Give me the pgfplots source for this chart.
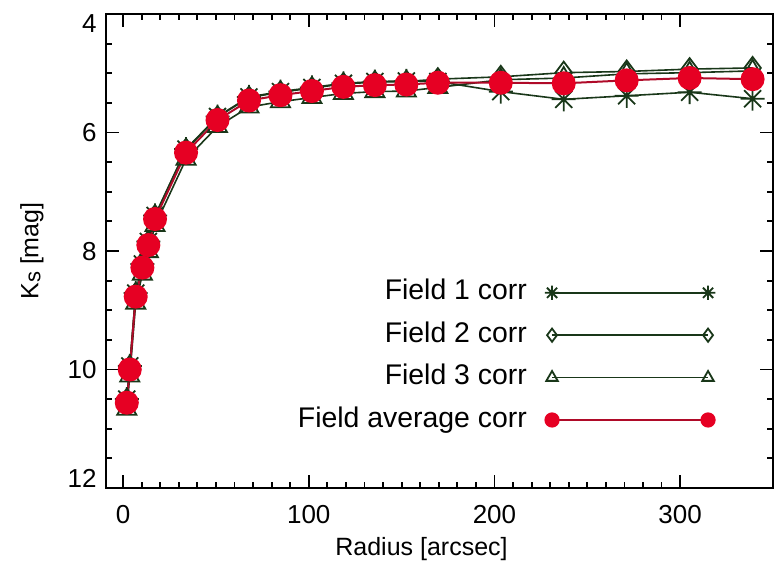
\documentclass[border=0pt]{standalone}
\usepackage{fontspec}
\setmainfont{Liberation Sans}
\usepackage{pgfplots}
\usepackage{pgfplotstable}
\pgfplotsset{compat=1.18}
\usetikzlibrary{plotmarks}

\definecolor{fieldline}{RGB}{25,55,25}
\definecolor{avgfill}{RGB}{230,0,35}
\definecolor{avgline}{RGB}{175,10,40}

% eight-armed asterisk
\pgfdeclareplotmark{ast8}{%
  \pgfpathmoveto{\pgfqpoint{0pt}{\pgfplotmarksize}}%
  \pgfpathlineto{\pgfqpoint{0pt}{-\pgfplotmarksize}}%
  \pgfpathmoveto{\pgfqpoint{\pgfplotmarksize}{0pt}}%
  \pgfpathlineto{\pgfqpoint{-\pgfplotmarksize}{0pt}}%
  \pgfpathmoveto{\pgfqpoint{.7071\pgfplotmarksize}{.7071\pgfplotmarksize}}%
  \pgfpathlineto{\pgfqpoint{-.7071\pgfplotmarksize}{-.7071\pgfplotmarksize}}%
  \pgfpathmoveto{\pgfqpoint{-.7071\pgfplotmarksize}{.7071\pgfplotmarksize}}%
  \pgfpathlineto{\pgfqpoint{.7071\pgfplotmarksize}{-.7071\pgfplotmarksize}}%
  \pgfusepathqstroke
}

% radius [arcsec], Ks profiles of the three fields and their average
\pgfplotstableread{
r       f1     f2     f3     avg
2.0     10.50  10.51  10.67  10.56
3.6     9.94   9.95   10.11  10.00
6.8     8.71   8.72   8.88   8.77
10.4    8.22   8.23   8.39   8.28
13.6    7.84   7.85   8.01   7.90
17.2    7.40   7.41   7.57   7.46
33.9    6.28   6.29   6.45   6.34
50.85   5.73   5.74   5.90   5.79
67.8    5.40   5.41   5.57   5.46
84.75   5.31   5.32   5.48   5.37
101.7   5.24   5.25   5.41   5.30
118.65  5.17   5.18   5.34   5.23
135.6   5.14   5.15   5.31   5.20
152.55  5.13   5.14   5.30   5.19
169.5   5.14   5.10   5.24   5.16
203.4   5.31   5.06   5.11   5.16
237.3   5.44   4.99   5.08   5.17
271.2   5.38   4.97   5.01   5.12
305.1   5.32   4.93   4.99   5.08
339.0   5.43   4.91   4.96   5.10
}\profiles

\begin{document}
\begin{tikzpicture}
\begin{axis}[
  name=ax,
  scale only axis,
  width=333.5pt, height=237pt,
  xmin=-9.2, xmax=350,
  ymin=4, ymax=12,
  y dir=reverse,
  xtick={0,100,200,300},
  ytick={4,6,8,10,12},
  minor x tick num=9,
  minor y tick num=3,
  xtick pos=both, ytick pos=both,
  tick align=inside,
  major tick length=6.5pt,
  minor tick length=3.2pt,
  every tick/.style={black, line width=0.9pt},
  axis line style={black, line width=1pt},
  /pgf/number format/assume math mode=true,
  tick label style={font=\fontsize{13}{13}\selectfont},
  xticklabel style={anchor=north, inner sep=0pt, yshift=-8.5pt},
  yticklabel style={anchor=east, inner sep=0pt, xshift=-4.5pt,
    text height=9.3pt, text depth=0pt},
  % end labels are kept inside the frame height
  yticklabel={\ifdim\tick pt<5pt\relax
      \raisebox{-4.5pt}{\pgfmathprintnumber{\tick}}%
    \else\ifdim\tick pt>11pt\relax
      \raisebox{5pt}{\pgfmathprintnumber{\tick}}%
    \else
      \pgfmathprintnumber{\tick}%
    \fi\fi},
  label style={font=\fontsize{12.5}{12.5}\selectfont},
  xlabel={Radius [arcsec]},
  ylabel={K{\fontsize{11}{11}\selectfont\raisebox{-1pt}{s}} [mag]},
  x label style={at={(axis description cs:0.5,0)}, anchor=base,
    xshift=-9pt, yshift=-33.5pt},
  y label style={at={(axis description cs:0,0.5)}, anchor=center, yshift=37pt},
  legend plot pos=right,
  legend cell align=right,
  legend image code/.code={%
    \draw[#1, every mark/.append style={scale=0.6}]
      plot coordinates {(0pt,0pt) (78pt,0pt)};},
  legend style={draw=none, fill=none,
    at={(rel axis cs:0.923,0.449)}, anchor=north east,
    font=\fontsize{14.2}{14.2}\selectfont,
    nodes={inner sep=0pt, text height=10.2pt, text depth=3pt},
    row sep=8pt, column sep=9pt},
]
\addplot[color=fieldline, line width=0.8pt, mark=ast8, mark size=6pt,
  mark options={line width=0.9pt}]
  table[x=r, y=f1] {\profiles};
\addlegendentry{Field 1 corr}
\addplot[color=fieldline, line width=0.8pt, mark=diamond, mark size=5.5pt,
  mark options={line width=0.9pt, fill=white}]
  table[x=r, y=f2] {\profiles};
\addlegendentry{Field 2 corr}
\addplot[color=fieldline, line width=0.8pt, mark=triangle, mark size=5.5pt,
  mark options={line width=0.9pt, fill=white}]
  table[x=r, y=f3] {\profiles};
\addlegendentry{Field 3 corr}
\addplot[color=avgline, line width=1pt, mark=*, mark size=5.5pt,
  mark options={draw=avgfill, fill=avgfill}]
  table[x=r, y=avg] {\profiles};
\addlegendentry{Field average corr}
\end{axis}
\path ([shift={(-53pt,-36pt)}]ax.south west) rectangle ([shift={(1pt,7pt)}]ax.north east);
\end{tikzpicture}
\end{document}
